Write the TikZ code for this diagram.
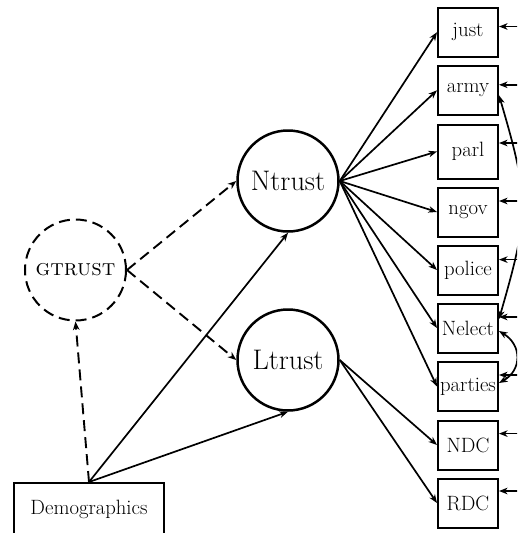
\documentclass[tikz,border=0pt]{standalone}
\usepackage{fontspec}
\usetikzlibrary{arrows.meta}
\begin{document}
\begin{tikzpicture}[x=1pt, y=-1pt,
  >={Stealth[length=8.5pt, width=6.5pt, inset=2.5pt]},
  obs/.style={draw, line width=2pt, minimum width=60pt, minimum height=49pt,
    inner sep=0pt, font=\fontsize{20.7}{25}\selectfont},
  lat/.style={circle, draw, line width=2.5pt, minimum size=101pt, inner sep=0pt,
    font=\fontsize{28.3}{34}\selectfont},
  glat/.style={circle, draw, line width=2pt, dash pattern=on 11pt off 6pt,
    minimum size=101pt, inner sep=0pt, font=\fontsize{23}{28}\selectfont\scshape},
  link/.style={line width=1.7pt, ->},
  dlink/.style={line width=1.9pt, dash pattern=on 11pt off 6pt, ->},
  cov/.style={line width=1.7pt, <->}]

\useasboundingbox (0,0) rectangle (517,533);
\clip (0,0) rectangle (517,533);

% latent factors
\node[glat] (G) at (75.5,270) {gtrust};
\node[lat]  (N) at (288,181) {Ntrust};
\node[lat]  (L) at (288,360) {Ltrust};

% background variables
\node[draw, line width=2pt, minimum width=150pt, minimum height=52pt, inner sep=0pt,
  font=\fontsize{20.7}{25}\selectfont] (D) at (89,509) {Demographics};

% indicators
\node[obs] (just)    at (468,32.2)  {just};
\node[obs] (army)    at (468,90.3)  {army};
\node[obs, minimum height=54pt] (parl) at (468,151.5) {parl};
\node[obs] (ngov)    at (468,212)   {ngov};
\node[obs] (police)  at (468,270)   {police};
\node[obs] (Nelect)  at (468,328)   {Nelect};
\node[obs] (parties) at (468,386.5) {parties};
\node[obs] (NDC)     at (468,445)   {NDC};
\node[obs] (RDC)     at (468,503)   {RDC};

% error terms (off to the right)
\coordinate (ejust)    at (540,26.5);
\coordinate (earmy)    at (540,84.8);
\coordinate (eparl)    at (540,143);
\coordinate (engov)    at (540,201);
\coordinate (epolice)  at (540,259.6);
\coordinate (eNelect)  at (540,317);
\coordinate (eparties) at (540,375);
\coordinate (eNDC)     at (540,433.6);
\coordinate (eRDC)     at (540,491);

% structural paths
\draw[dlink] (G.east) -- (N.west);
\draw[dlink] (G.east) -- (L.west);
\draw[dlink] (D.north) -- (G.south);
\draw[link] (D.north) -- (N.south);
\draw[link] (D.north) -- (L.south);

% loadings
\foreach \v in {just,army,parl,ngov,police,Nelect,parties}
  \draw[link] (N.east) -- (\v.west);
\foreach \v in {NDC,RDC}
  \draw[link] (L.east) -- (\v.west);

% residuals
\foreach \v in {just,army,parl,ngov,police,Nelect,parties,NDC,RDC}
  \draw[link] (e\v) -- (e\v -| \v.east);

% residual covariances
\draw[cov] ([yshift=-5pt]army.east) .. controls +(31,105) and +(30,-104) .. ([yshift=9pt]Nelect.east);
\draw[cov] ([yshift=-3pt]Nelect.east) .. controls +(23,14) and +(23,-13) .. ([yshift=3.5pt]parties.east);
\end{tikzpicture}
\end{document}
